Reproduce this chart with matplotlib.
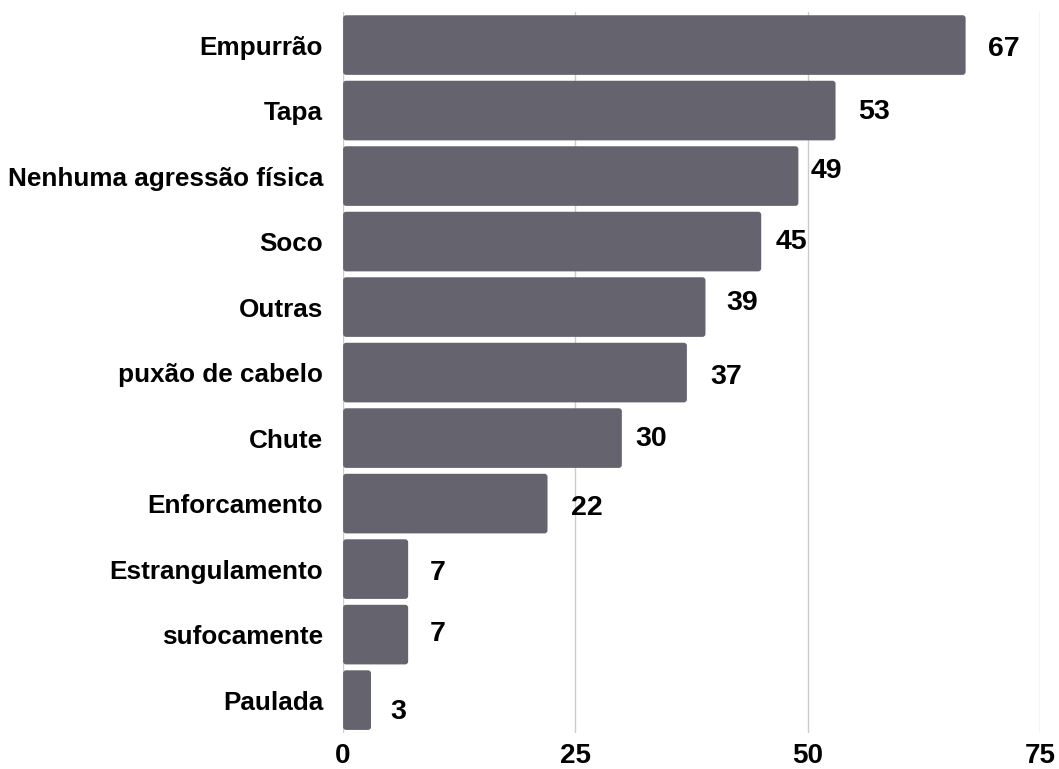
import matplotlib
matplotlib.use('Agg')
from matplotlib import pyplot as plt
from matplotlib.patches import FancyBboxPatch

categories = ['Empurrão', 'Tapa', 'Nenhuma agressão física', 'Soco', 'Outras',
              'puxão de cabelo', 'Chute', 'Enforcamento', 'Estrangulamento',
              'sufocamente', 'Paulada']
values = [67, 53, 49, 45, 39, 37, 30, 22, 7, 7, 3]
xticks = [0, 25, 50, 75]

# nudges (pixels) for the value labels: right of the bar end, and downward
label_dx = [22, 23, 12, 14, 21, 23, 13, 23, 22, 22, 19]
label_dy = [4, 1, -5, 0, -4, 4, 1, 4, 4, -1, 12]

plt.rcParams['font.family'] = ['Liberation Sans', 'DejaVu Sans']
plt.rcParams['font.weight'] = 'bold'

bar_color = '#64636e'
grid_color = '#cccccc'

fig = plt.figure(figsize=(10.59, 7.69), dpi=100)
ax = fig.add_axes([0.324, 0.047, 0.658, 0.937])

n = len(categories)
ys = list(range(n))
h = 0.91
ax.set_xlim(0, 75)
ax.set_ylim(n - 0.5, -0.5)

# rounded bars: radius given in x units, scaled to y through mutation_aspect
px_x = 0.658 * 1059 / 75
px_y = 0.937 * 769 / n
r = 3.0 / px_x
for y, v in zip(ys, values):
    box = FancyBboxPatch((0, y - h / 2), v, h,
                         boxstyle='round,pad=0,rounding_size=%f' % r,
                         mutation_aspect=px_x / px_y,
                         fc=bar_color, ec='none', zorder=2)
    ax.add_patch(box)

for y, v, dx, dy in zip(ys, values, label_dx, label_dy):
    ax.annotate(str(v), xy=(v, y), xytext=(dx * 0.72, -dy * 0.72),
                textcoords='offset points', ha='left', va='center',
                fontsize=20.5, fontweight='bold', color='black')

ax.set_xticks(xticks)
ax.set_xticklabels([str(t) for t in xticks], fontsize=20, fontweight='bold')
ax.set_yticks(ys)
ax.set_yticklabels(categories, fontsize=18.8, fontweight='bold')
ax.tick_params(axis='both', length=0)
ax.tick_params(axis='y', pad=14.4)
ax.tick_params(axis='x', pad=7)

for t in xticks:
    ax.axvline(t, color=grid_color, lw=1, zorder=1)
for s in ax.spines.values():
    s.set_visible(False)

fig.savefig('out.png', dpi=100)
